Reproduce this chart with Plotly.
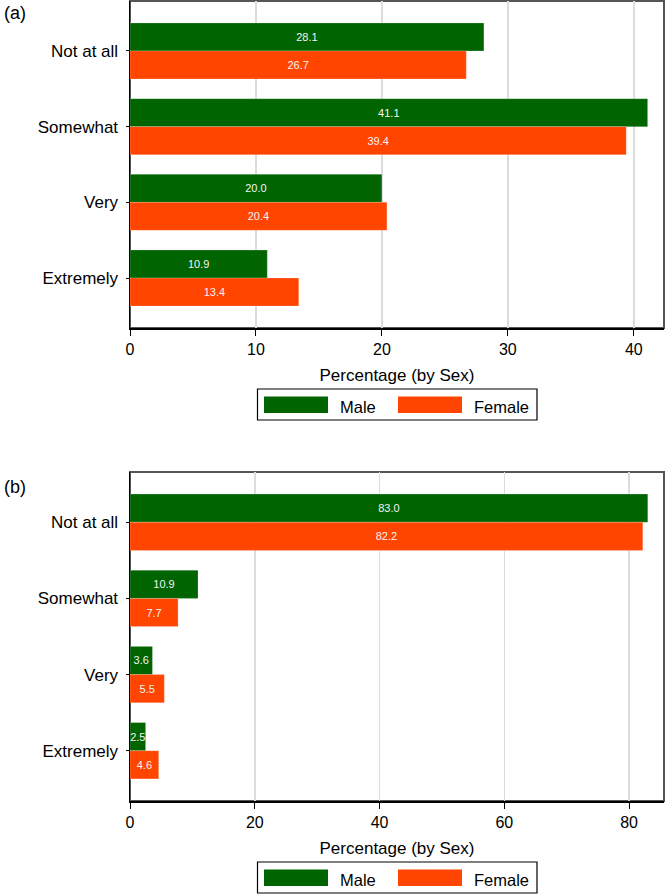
import plotly.graph_objects as go

# ---------------- data ----------------
categories = ["Not at all", "Somewhat", "Very", "Extremely"]
series_names = ["Male", "Female"]
male_a = [28.1, 41.1, 20.0, 10.9]
female_a = [26.7, 39.4, 20.4, 13.4]
male_b = [83.0, 10.9, 3.6, 2.5]
female_b = [82.2, 7.7, 5.5, 4.6]
xticks_a = [0, 10, 20, 30, 40]
xticks_b = [0, 20, 40, 60, 80]
panel_labels = ["(a)", "(b)"]
x_title = "Percentage (by Sex)"

# ---------------- style ----------------
W, H = 666, 895
GREEN = "#006400"
ORANGE = "#FF4500"
FONT = "Liberation Sans, Arial, Helvetica, sans-serif"


def px(x):
    return x / W


def py(y):
    return 1 - y / H


panels = [
    dict(top=1, bottom=328, xmax=42.4, ticks=xticks_a, male=male_a, female=female_a,
         xa="x", ya="y", label_y=13),
    dict(top=472, bottom=801, xmax=85.6, ticks=xticks_b, male=male_b, female=female_b,
         xa="x2", ya="y2", label_y=487),
]
plot_left, plot_right = 130, 664

fig = go.Figure()
shapes = []
annotations = []

for i, p in enumerate(panels):
    for name, vals, col in [(series_names[0], p["male"], GREEN),
                            (series_names[1], p["female"], ORANGE)]:
        fig.add_trace(go.Bar(
            name=name, y=categories, x=vals, orientation="h",
            marker=dict(color=col, line=dict(width=0.6, color="rgba(255,255,255,0.35)")),
            text=[f"{v:.1f}" for v in vals], textposition="inside",
            insidetextanchor="middle", textangle=0,
            textfont=dict(color="#f4f4f4", size=11, family=FONT),
            xaxis=p["xa"], yaxis=p["ya"], showlegend=False, hoverinfo="skip",
        ))

    ax_suffix = "" if i == 0 else "2"
    fig.update_layout(**{
        f"xaxis{ax_suffix}": dict(
            domain=[px(plot_left), px(plot_right)], anchor=p["ya"],
            range=[0, p["xmax"]], tickvals=p["ticks"],
            showgrid=True, gridcolor="#dcdcdc", gridwidth=1.5, zeroline=False,
            showline=True, linecolor="black", linewidth=1.5,
            ticks="outside", ticklen=6, tickcolor="black", tickwidth=1,
            tickfont=dict(size=16, family=FONT, color="black"),
            title=dict(text=x_title, font=dict(size=17, family=FONT, color="black"), standoff=12),
            automargin=False, fixedrange=True,
        ),
        f"yaxis{ax_suffix}": dict(
            domain=[py(p["bottom"]), py(p["top"])], anchor=p["xa"],
            type="category", categoryorder="array", categoryarray=categories,
            range=[3.66, -0.66], showgrid=False, zeroline=False,
            showline=True, linecolor="black", linewidth=1.5,
            ticks="outside", ticklen=3, tickcolor="black",
            tickfont=dict(size=17, family=FONT, color="black"),
            ticklabelstandoff=4, automargin=False, fixedrange=True,
        ),
    })

    # frame (top/right borders)
    shapes.append(dict(type="rect", xref="paper", yref="paper",
                       x0=px(plot_left), x1=px(plot_right), y0=py(p["bottom"]), y1=py(p["top"]),
                       line=dict(color="#555555", width=2), layer="below"))

    # panel label
    annotations.append(dict(text=panel_labels[i], xref="paper", yref="paper",
                            x=px(2), y=py(p["label_y"]), xanchor="left", yanchor="middle",
                            showarrow=False, font=dict(size=18, family=FONT, color="black")))

    # custom legend box
    lb_top = p["bottom"] + 61
    lb_bot = lb_top + 31
    shapes.append(dict(type="rect", xref="paper", yref="paper",
                       x0=px(257.5), x1=px(537), y0=py(lb_bot), y1=py(lb_top),
                       line=dict(color="black", width=1.2), fillcolor="white", layer="above"))
    for (sx0, sx1, col, tx, name) in [(264, 328, GREEN, 338, series_names[0]),
                                      (398, 462, ORANGE, 472, series_names[1])]:
        shapes.append(dict(type="rect", xref="paper", yref="paper",
                           x0=px(sx0), x1=px(sx1), y0=py(lb_top + 24), y1=py(lb_top + 7.5),
                           line=dict(width=0), fillcolor=col, layer="above"))
        annotations.append(dict(text=name, xref="paper", yref="paper",
                                x=px(tx), y=py(lb_top + 18), xanchor="left", yanchor="middle",
                                showarrow=False, font=dict(size=16.5, family=FONT, color="black")))

fig.update_layout(
    width=W, height=H,
    margin=dict(l=0, r=0, t=0, b=0, autoexpand=False),
    paper_bgcolor="white", plot_bgcolor="white",
    barmode="group", bargap=0.26, bargroupgap=0,
    uniformtext=dict(minsize=10, mode="show"),
    showlegend=False, hovermode=False,
    shapes=shapes, annotations=annotations,
    font=dict(family=FONT, color="black"),
)

fig.write_html("out.html", config={"displayModeBar": False, "staticPlot": True},
               post_script="document.body.style.margin='0';document.body.style.overflow='hidden';")
